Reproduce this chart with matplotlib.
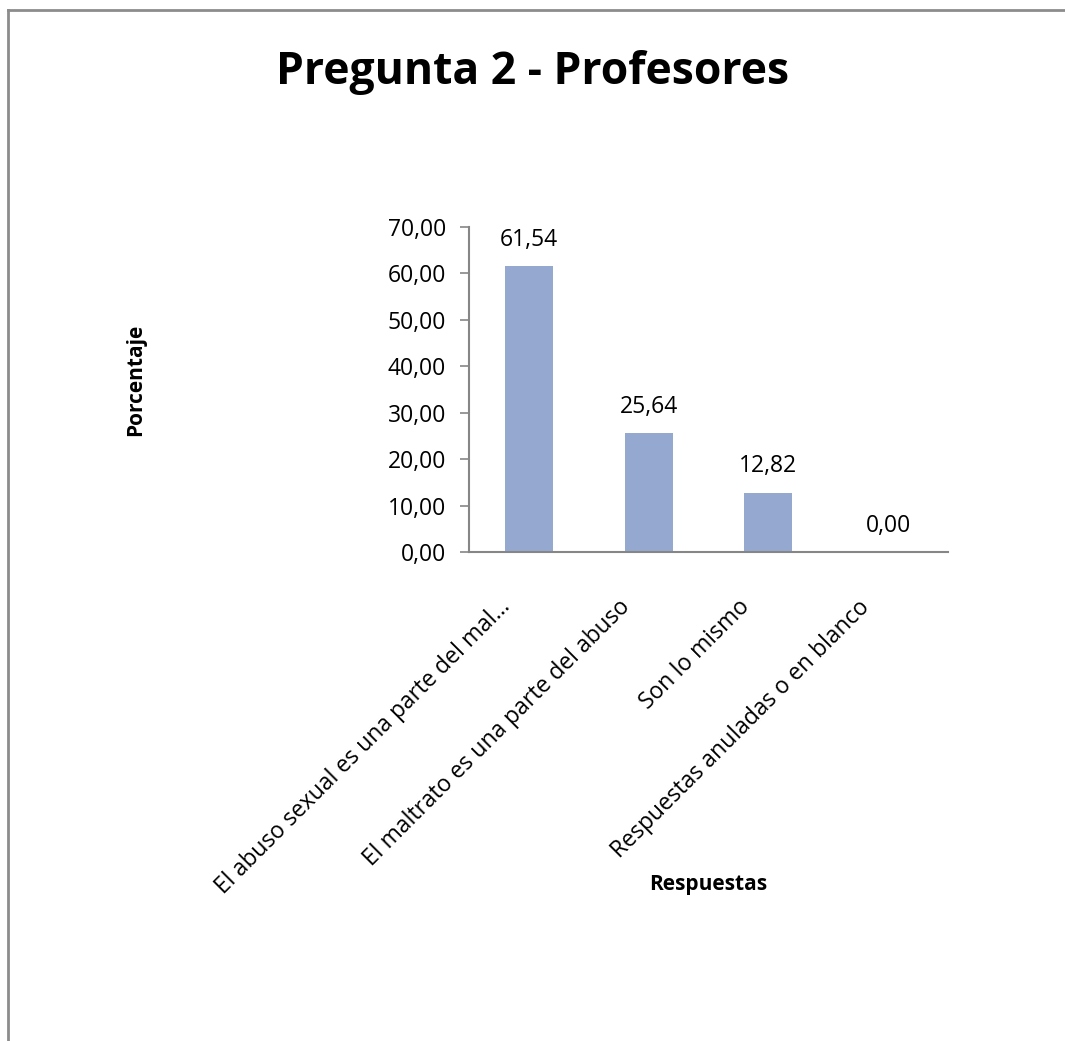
import matplotlib
matplotlib.use("Agg")
import matplotlib.pyplot as plt
from matplotlib.lines import Line2D
from matplotlib.transforms import ScaledTranslation

plt.rcParams['font.family'] = ['Open Sans', 'DejaVu Sans']

# data
categories = [
    "El abuso sexual es una parte del mal...",
    "El maltrato es una parte del abuso",
    "Son lo mismo",
    "Respuestas anuladas o en blanco",
]
percentages = [61.54, 25.64, 12.82, 0.00]
y_ticks = [0, 10, 20, 30, 40, 50, 60, 70]

bar_color = '#95A9D0'
axis_color = '#868686'
label_size = 16.5


def fmt_comma(v):
    return f"{v:.2f}".replace('.', ',')


fig = plt.figure(figsize=(10.65, 10.41), dpi=100)
ax = fig.add_axes([0.4404, 0.4697, 0.4498, 0.3122])

x = list(range(len(categories)))
ax.bar(x, percentages, width=0.4, color=bar_color, zorder=2)

# data labels above each bar
for xi, v in zip(x, percentages):
    ax.annotate(fmt_comma(v), (xi, v), xytext=(0, 19), textcoords='offset points',
                ha='center', va='center', fontsize=label_size, color='black')

ax.set_xlim(-0.5, len(categories) - 0.5)
ax.set_ylim(0, 70)
ax.set_yticks(y_ticks)
ax.set_yticklabels([fmt_comma(t) for t in y_ticks], fontsize=label_size)

ax.set_xticks(x)
ax.set_xticklabels(categories, rotation=45, ha='right', rotation_mode='anchor',
                   fontsize=label_size)
ax.tick_params(axis='x', length=0, pad=0)
ax.tick_params(axis='y', length=6.5, width=1.2, color=axis_color, pad=10)

# move the slanted labels so their ends sit just under each bar
shift = ScaledTranslation(-0.31, -0.43, fig.dpi_scale_trans)
for lab in ax.get_xticklabels():
    lab.set_transform(lab.get_transform() + shift)

for side in ['top', 'right']:
    ax.spines[side].set_visible(False)
for side in ['left', 'bottom']:
    ax.spines[side].set_color(axis_color)
    ax.spines[side].set_linewidth(1.5)

# titles
fig.text(0.5, 0.930, "Pregunta 2 - Profesores", ha='center', va='center',
         fontsize=32, fontweight='bold')
fig.text(0.127, 0.635, "Porcentaje", rotation=90, ha='center', va='center',
         fontsize=15, fontweight='bold')
fig.text(0.665, 0.150, "Respuestas", ha='center', va='center',
         fontsize=15, fontweight='bold')

# chart area frame (only left and top edges show in the crop)
fig.add_artist(Line2D([7.5 / 1065, 7.5 / 1065], [0, 1 - 10 / 1041],
                      transform=fig.transFigure, color='#8C8C8C', lw=2))
fig.add_artist(Line2D([7.5 / 1065, 1], [1 - 10 / 1041, 1 - 10 / 1041],
                      transform=fig.transFigure, color='#8C8C8C', lw=2))

fig.savefig("out.png", dpi=100)
